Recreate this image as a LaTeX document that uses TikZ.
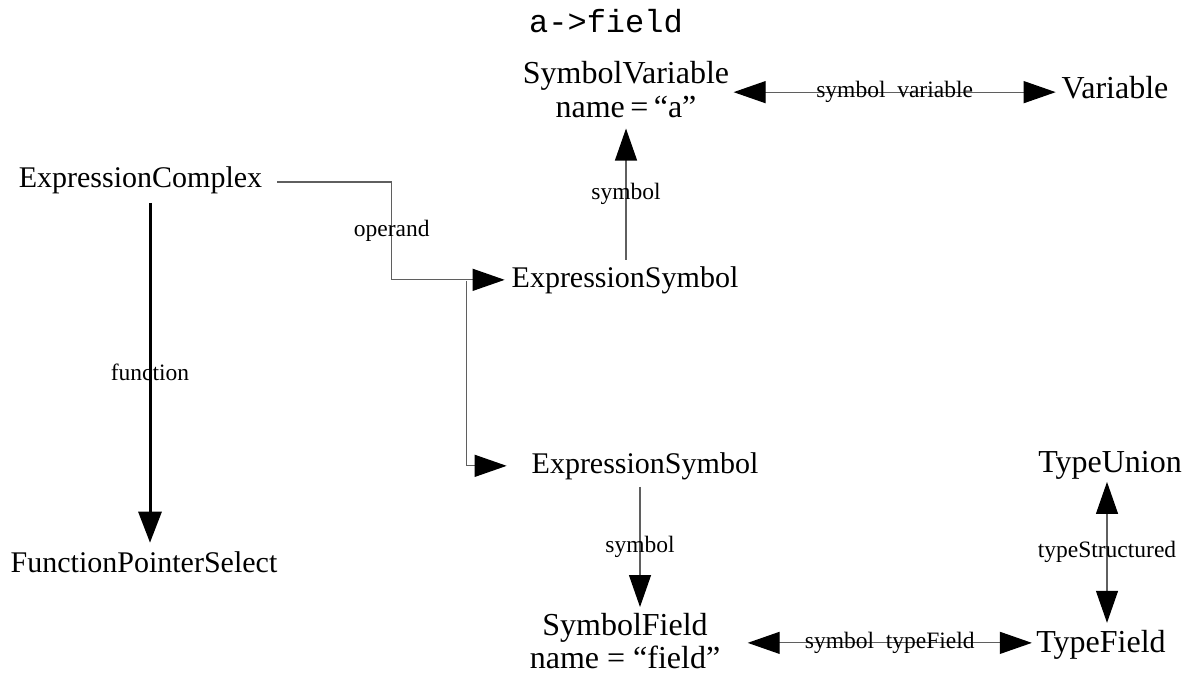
\documentclass[tikz,border=0pt]{standalone}
\usepackage{fontspec}
\setmainfont{Liberation Serif}
\newfontfamily\monof{Liberation Mono}
\usetikzlibrary{arrows.meta,calc}
\definecolor{lngray}{RGB}{95,95,95}
\begin{document}
\begin{tikzpicture}[x=0.5pt,y=-0.5pt,
  cls/.style={inner sep=0pt,outer sep=0pt,font=\fontsize{15}{16.5}\selectfont,align=center},
  big/.style={font=\fontsize{16}{17}\selectfont},
  lbl/.style={inner sep=0pt,font=\fontsize{11.75}{13}\selectfont,text=black},
  conn/.style={draw=lngray,line width=0.6pt,-{Triangle[length=16pt,width=11pt,color=black]}},
  biconn/.style={draw=lngray,line width=0.6pt,{Triangle[length=16pt,width=11pt,color=black]}-{Triangle[length=16pt,width=11pt,color=black]}},
  thickconn/.style={draw=black,line width=1.5pt,-{Triangle[length=15.5pt,width=11.5pt]}}
]
\useasboundingbox (0,0) rectangle (1187,677);

% nodes
\node[cls,anchor=base,font=\monof\fontsize{16}{18}\selectfont] (av) at (606,32) {a->field};
\node[cls,big,anchor=north] (sv) at (626,61) {SymbolVariable\\name\hspace{0.17em}=\hspace{0.17em}“a”};
\node[cls,big,anchor=base] (v) at (1115,98) {Variable};
\node[cls,anchor=base] (ec) at (140.5,187) {ExpressionComplex};
\node[cls,anchor=base] (es1) at (625,287) {ExpressionSymbol};
\node[cls,anchor=base] (es2) at (645,473) {ExpressionSymbol};
\node[cls,anchor=base] (fps) at (144,572) {FunctionPointerSelect};
\node[cls,big,font=\fontsize{16}{16.5}\selectfont,anchor=north] (sf) at (625,613) {SymbolField\\name = “field”};
\node[cls,big,anchor=base] (tu) at (1110,472) {TypeUnion};
\node[cls,big,anchor=base] (tf) at (1101,652) {TypeField};

% connectors
\draw[biconn] ($(v.west -| sv.east)+(4.5,5)$) -- node[lbl]{symbol\hspace{0.5em}variable} ($(v.west)+(-6,5)$);
\draw[conn] ($(es1.north)+(1,-6.5)$) -- node[lbl]{symbol} ($(es1.north |- sv.south)+(1,11)$);
\draw[conn] ($(ec.base east)+(15,-5)$) -| node[lbl,pos=0.75]{operand} ($(es1.west)+(-120,0)$) -- ($(es1.west)+(-7,0)$);
\draw[conn] ($(es1.west)+(-45,1)$) |- ($(es2.west)+(-25,0)$);
\draw[thickconn] ($(ec.south)+(9.5,9.5)$) -- node[lbl]{function} ($(ec.south |- fps.north)+(9.5,-8.5)$);
\draw[conn] ($(es2.south)+(-5,7.5)$) -- node[lbl]{symbol} ($(es2.south |- sf.north)+(-5,-6)$);
\draw[biconn] ($(tf.west -| sf.east)+(27.5,-1.5)$) -- node[lbl]{symbol\hspace{0.5em}typeField} ($(tf.west)+(-4.5,-1.5)$);
\draw[biconn] ($(tu.south)+(-3,3)$) -- node[lbl]{typeStructured} ($(tu.south |- tf.north)+(-3,-7)$);
\end{tikzpicture}
\end{document}
